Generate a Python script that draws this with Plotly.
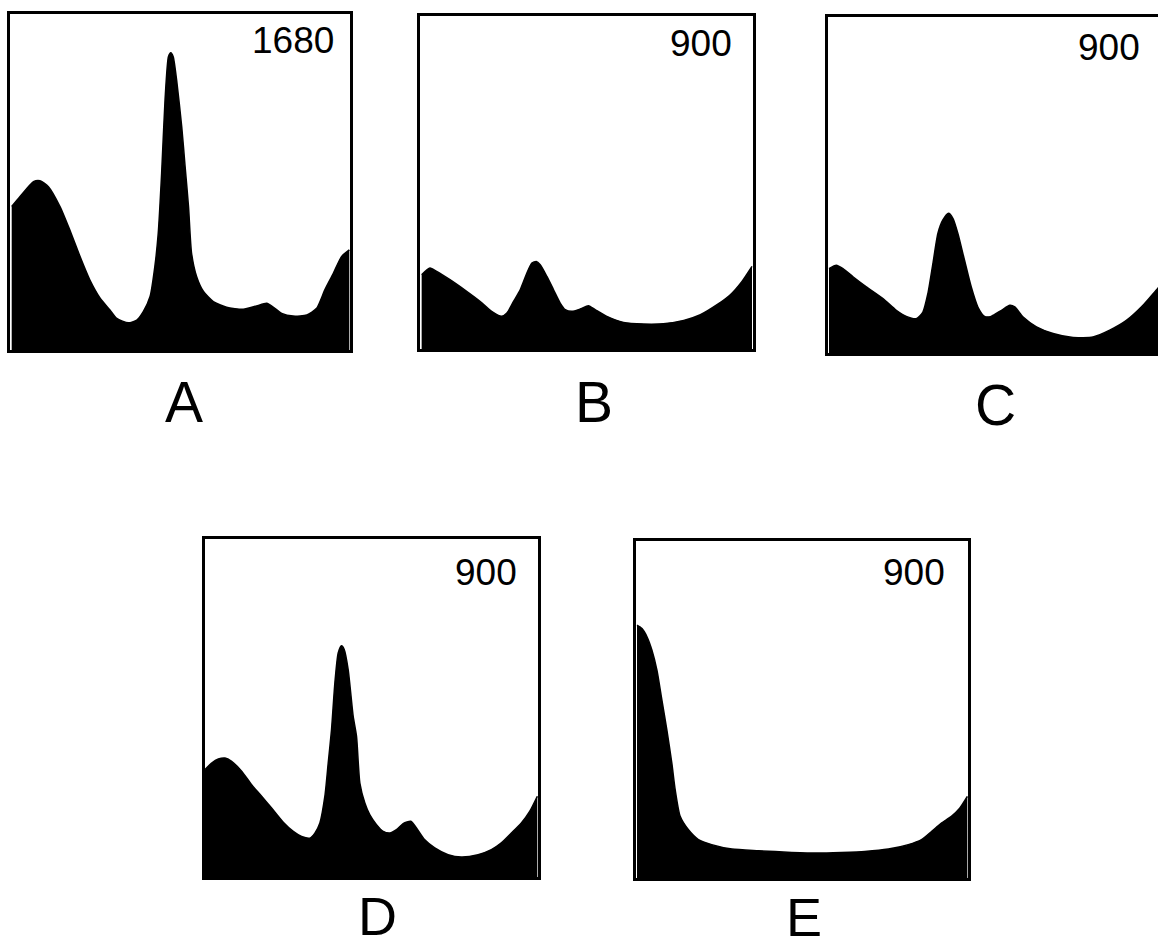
import plotly.graph_objects as go

W, H = 1158, 948

# ---- data (x: 0-100 across panel, y: 0-100 of panel height) ----
a_x = [0.5, 2.9, 6.9, 8.8, 11.3, 14.7, 17.6, 20.6, 23.5, 26.5, 29.4, 31.4, 34.8, 37.3, 39.2, 41.2, 42.6, 43.6, 44.6, 45.6, 46.6, 47.3, 48.0, 49.0, 50.5, 51.5, 52.5, 53.4, 54.9, 56.9, 59.8, 63.7, 68.6, 72.5, 75.5, 77.5, 79.9, 83.3, 87.3, 90.2, 92.6, 95.1, 97.5, 99.8]
a_y = [42.7, 45.6, 50.1, 50.4, 48.6, 42.7, 35.7, 27.8, 20.8, 15.4, 11.9, 9.4, 8.1, 8.9, 11.4, 15.9, 24.8, 34.7, 52.6, 74.4, 87.3, 88.5, 87.3, 80.4, 66.5, 54.6, 42.7, 28.8, 21.8, 17.4, 14.4, 12.7, 12.1, 13.1, 13.9, 12.7, 10.9, 10.1, 10.4, 12.4, 17.9, 22.8, 27.8, 29.8]

b_x = [0.5, 3.0, 5.0, 9.0, 14.0, 18.0, 21.5, 24.5, 26.1, 28.1, 30.1, 32.1, 33.6, 34.9, 36.1, 38.1, 40.1, 42.1, 43.6, 45.6, 48.1, 50.6, 52.6, 56.1, 61.1, 67.1, 73.1, 79.2, 84.2, 89.2, 93.2, 96.7, 99.7]
b_y = [22.3, 24.3, 23.3, 20.8, 17.3, 14.3, 11.3, 9.8, 10.8, 14.3, 17.8, 22.8, 25.8, 26.3, 25.3, 21.8, 17.8, 13.8, 11.8, 11.3, 12.0, 13.0, 11.8, 9.8, 8.0, 7.5, 7.6, 8.6, 10.3, 13.3, 16.3, 20.3, 24.8]

c_x = [0.3, 2.5, 4.5, 7.5, 11.5, 16.5, 20.5, 23.5, 26.5, 28.5, 30.0, 31.5, 33.0, 34.5, 36.2, 37.5, 39.0, 41.0, 43.0, 45.0, 47.0, 49.0, 52.1, 54.6, 56.1, 58.6, 62.6, 67.6, 73.6, 79.6, 84.6, 89.6, 94.6, 99.0, 100.0]
c_y = [25.1, 26.1, 25.1, 22.7, 19.7, 16.2, 12.7, 10.9, 10.2, 12.2, 17.7, 26.6, 35.6, 39.6, 41.6, 40.1, 35.6, 27.6, 19.7, 13.7, 10.9, 10.9, 12.7, 14.2, 13.7, 10.7, 7.8, 5.8, 4.6, 4.8, 6.8, 9.7, 14.2, 19.2, 20.2]

d_x = [0, 2, 4, 6, 8, 11, 14, 17, 20, 23.5, 26.5, 29, 31.5, 33, 34.5, 36, 37, 38, 39, 40, 41, 41.8, 43, 44.5, 45.5, 46.5, 48, 49.5, 51.5, 53.5, 55.5, 57.5, 59.5, 61.8, 63.5, 66, 69, 73, 77, 82, 86, 89, 92, 95, 97.5, 99.8]
d_y = [31.8, 33.7, 34.9, 35.2, 34.2, 31.3, 27.3, 23.9, 20.4, 16.2, 13.5, 12.0, 11.5, 13.0, 16.0, 23.9, 33.7, 43.6, 57.4, 66.3, 68.4, 67.3, 61.3, 47.5, 41.6, 27.8, 21.9, 18.4, 15.5, 13.5, 13.0, 14.0, 15.8, 16.5, 14.5, 11.0, 8.6, 6.6, 5.9, 6.6, 8.1, 10.1, 13.0, 16.0, 19.4, 23.9]

e_x = [0.3, 1.8, 3.3, 4.8, 6.3, 7.8, 9.3, 10.8, 11.8, 13.3, 15.8, 18.8, 22.8, 28.9, 36.9, 46.9, 54.9, 61.9, 68.9, 76.0, 82.0, 86.0, 89.0, 92.0, 95.0, 97.5, 99.8]
e_y = [75.0, 74.0, 71.6, 67.6, 61.7, 52.8, 43.9, 34.0, 26.2, 18.3, 14.3, 11.4, 9.9, 8.6, 8.1, 7.6, 7.4, 7.6, 7.9, 8.6, 9.9, 11.4, 13.8, 16.3, 18.3, 20.7, 24.2]

panel_letters = ["A", "B", "C", "D", "E"]
panel_scales = ["1680", "900", "900", "900", "900"]

# ---- layout (pixel boxes) ----
boxes = [  # left, top, right, bottom in px
    (10, 14, 350, 350),
    (420, 16, 753, 349),
    (828, 17, 1161, 353),
    (205, 539, 538, 877),
    (636, 541, 968, 878),
]
scale_pos = [(293, 40), (701, 44), (1109, 47), (486, 572), (914, 572)]
# (x, y, anchor) ; bottom-row letters anchored at their box bottom so they stay inside the page
letter_pos = [(184, 402, "middle"), (594, 402, "middle"), (996, 405, "middle"),
              (377, 947, "bottom"), (804, 948, "bottom")]
letter_size = [57, 57, 57, 54, 54]

series = [(a_x, a_y), (b_x, b_y), (c_x, c_y), (d_x, d_y), (e_x, e_y)]

fig = go.Figure()
layout = dict(width=W, height=H, margin=dict(l=0, r=0, t=0, b=0),
              paper_bgcolor="white", plot_bgcolor="white", showlegend=False)

annotations = []
for i, ((xs, ys), (l, t, r, b)) in enumerate(zip(series, boxes)):
    n = "" if i == 0 else str(i + 1)
    xr = 100.0
    right = r
    if r > W:
        xr = 100.0 * (W - l) / (r - l)
        right = W
    fig.add_trace(go.Scatter(x=xs, y=ys, mode="lines", fill="tozeroy",
                             line=dict(color="black", width=1.5, shape="spline", smoothing=0.6),
                             fillcolor="black", xaxis="x" + n, yaxis="y" + n,
                             hoverinfo="skip"))
    layout["xaxis" + n] = dict(domain=[l / W, right / W], range=[0, xr],
                               showgrid=False, zeroline=False, showticklabels=False,
                               ticks="", showline=True, mirror=True, linecolor="black",
                               linewidth=2.5, anchor="y" + n)
    layout["yaxis" + n] = dict(domain=[1 - b / H, 1 - t / H], range=[0, 100],
                               showgrid=False, zeroline=False, showticklabels=False,
                               ticks="", showline=True, mirror=(r <= W), linecolor="black",
                               linewidth=2.5, anchor="x" + n)
    sx, sy = scale_pos[i]
    annotations.append(dict(text=panel_scales[i], x=sx / W, y=1 - sy / H, xref="paper", yref="paper",
                            showarrow=False, xanchor="center", yanchor="middle",
                            font=dict(family="Liberation Sans", size=37, color="black")))
    lx, ly, anc = letter_pos[i]
    annotations.append(dict(text=panel_letters[i], x=lx / W, y=1 - ly / H, xref="paper", yref="paper",
                            showarrow=False, xanchor="center", yanchor=anc, borderpad=0,
                            font=dict(family="Liberation Sans", size=letter_size[i], color="black")))

layout["annotations"] = annotations
fig.update_layout(**layout)
fig.write_html("out.html")
